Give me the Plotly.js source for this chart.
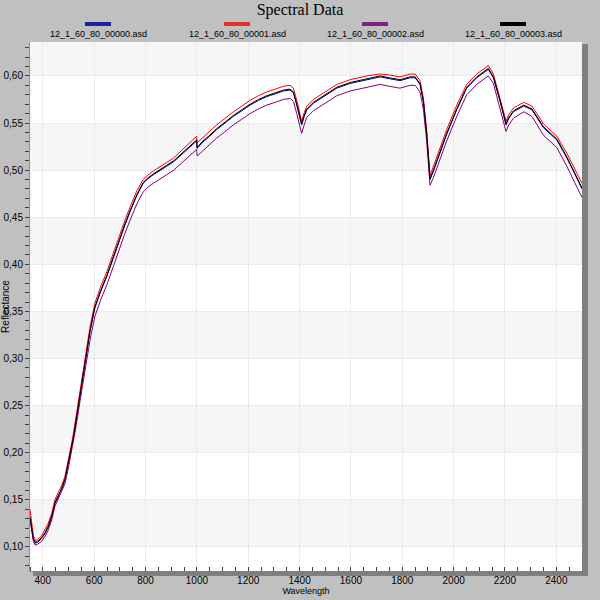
<!DOCTYPE html>
<html>
<head>
<meta charset="utf-8">
<script src="https://cdn.plot.ly/plotly-3.0.1.min.js"></script>
<style>html,body{margin:0;padding:0;background:#c0c0c0;}#chart{width:600px;height:600px;}</style>
</head>
<body>
<div id="chart"></div>
<script>
var seriesNames = ["12_1_60_80_00000.asd", "12_1_60_80_00001.asd", "12_1_60_80_00002.asd", "12_1_60_80_00003.asd"];
var xTickLabels = ["400","600","800","1000","1200","1400","1600","1800","2000","2200","2400"];

var wavelength = [350,357,363,370,380,395,408,421,435,447,460,473,486,499,510,520,530,545,560,584,603,625,649,675,700,720,740,766,791,810,830,855,882,910,934,960,980,999,1001,1020,1050,1077,1110,1142,1175,1207,1240,1272,1305,1337,1363,1376,1389,1400,1408,1418,1428,1454,1493,1545,1597,1662,1714,1750,1791,1830,1850,1869,1882,1895,1908,1920,1934,1973,2012,2051,2090,2116,2135,2155,2181,2204,2215,2233,2273,2305,2350,2402,2441,2470,2500];

var refl00000 = [0.131,0.118,0.108,0.104,0.105,0.109,0.114,0.121,0.132,0.146,0.154,0.161,0.171,0.187,0.203,0.217,0.235,0.262,0.289,0.329,0.354,0.371,0.387,0.408,0.428,0.442,0.456,0.473,0.486,0.491,0.495,0.499,0.504,0.509,0.515,0.521,0.526,0.531,0.523,0.529,0.536,0.543,0.550,0.557,0.563,0.569,0.574,0.578,0.581,0.584,0.585,0.582,0.569,0.555,0.548,0.557,0.564,0.571,0.578,0.587,0.592,0.596,0.599,0.597,0.595,0.598,0.598,0.591,0.573,0.538,0.490,0.498,0.509,0.538,0.564,0.587,0.598,0.603,0.607,0.598,0.573,0.548,0.555,0.562,0.568,0.564,0.545,0.532,0.513,0.497,0.480];

var refl00001 = [0.140,0.124,0.112,0.107,0.108,0.112,0.118,0.125,0.136,0.150,0.158,0.165,0.175,0.191,0.207,0.222,0.240,0.267,0.294,0.334,0.359,0.376,0.392,0.413,0.433,0.447,0.461,0.478,0.490,0.495,0.499,0.503,0.508,0.513,0.519,0.526,0.531,0.536,0.529,0.534,0.541,0.548,0.555,0.562,0.568,0.574,0.579,0.583,0.586,0.589,0.590,0.587,0.574,0.560,0.552,0.561,0.568,0.575,0.582,0.591,0.596,0.600,0.602,0.601,0.599,0.602,0.602,0.595,0.577,0.542,0.494,0.503,0.514,0.543,0.569,0.591,0.602,0.607,0.611,0.602,0.577,0.552,0.559,0.566,0.572,0.568,0.549,0.536,0.518,0.502,0.486];

var refl00002 = [0.130,0.116,0.106,0.102,0.103,0.106,0.111,0.118,0.129,0.143,0.151,0.158,0.167,0.183,0.198,0.212,0.229,0.255,0.281,0.320,0.345,0.362,0.378,0.399,0.419,0.433,0.447,0.464,0.477,0.482,0.486,0.490,0.495,0.500,0.506,0.512,0.517,0.522,0.515,0.520,0.527,0.534,0.541,0.548,0.554,0.560,0.565,0.569,0.572,0.575,0.576,0.573,0.560,0.546,0.539,0.548,0.556,0.563,0.570,0.579,0.584,0.588,0.591,0.589,0.587,0.590,0.590,0.583,0.565,0.531,0.484,0.491,0.502,0.531,0.557,0.580,0.591,0.596,0.600,0.592,0.566,0.541,0.548,0.555,0.562,0.557,0.537,0.524,0.504,0.488,0.471];

var refl00003 = [0.132,0.119,0.109,0.105,0.106,0.110,0.115,0.122,0.133,0.147,0.155,0.162,0.172,0.188,0.204,0.218,0.236,0.263,0.290,0.330,0.355,0.372,0.388,0.409,0.429,0.443,0.457,0.474,0.487,0.492,0.496,0.500,0.505,0.510,0.516,0.522,0.527,0.532,0.524,0.530,0.537,0.544,0.551,0.558,0.564,0.570,0.575,0.579,0.582,0.585,0.586,0.583,0.570,0.556,0.549,0.558,0.565,0.572,0.579,0.588,0.593,0.597,0.600,0.598,0.596,0.599,0.599,0.592,0.574,0.539,0.491,0.499,0.510,0.539,0.565,0.588,0.599,0.604,0.608,0.599,0.574,0.549,0.556,0.563,0.569,0.565,0.546,0.533,0.514,0.498,0.481];

var seriesValues = [refl00000, refl00001, refl00002, refl00003];
var lineColors = ["#000080", "#ff0000", "#800080", "#000000"];
var legendColors = ["#2020a0", "#e03030", "#802080", "#000000"];

var traces = seriesValues.map(function (vals, i) {
  return {
    x: wavelength, y: vals, type: "scatter", mode: "lines", name: seriesNames[i],
    line: {color: lineColors[i], width: 1}, showlegend: false, hoverinfo: "skip"
  };
});

var yRange = [0.0745, 0.636];
var shapes = [];
for (var b = 0.10; b < 0.64; b += 0.10) {
  shapes.push({type: "rect", xref: "paper", yref: "y", x0: 0, x1: 1, y0: b, y1: Math.min(b + 0.05, yRange[1]),
    fillcolor: "#f6f6f6", line: {width: 0}, layer: "below"});
}
// plot-area shadow (right and bottom)
var L = 30, R = 582, T = 42, B = 571, W = R - L, H = B - T;
function px(v) { return (v - L) / W; }
function py(v) { return (B - v) / H; }
shapes.push({type: "rect", xref: "paper", yref: "paper", x0: px(582), x1: px(588), y0: py(44), y1: py(576), fillcolor: "#808080", line: {width: 0}});
shapes.push({type: "rect", xref: "paper", yref: "paper", x0: px(33), x1: px(588), y0: py(571), y1: py(576), fillcolor: "#808080", line: {width: 0}});

// legend: line symbol above centred text
var legendCenters = [98, 237, 375, 513];
var annotations = [];
seriesNames.forEach(function (nm, i) {
  shapes.push({type: "line", xref: "paper", yref: "paper", x0: px(legendCenters[i] - 13), x1: px(legendCenters[i] + 13),
    y0: py(24), y1: py(24), line: {color: legendColors[i], width: 4}});
  annotations.push({text: nm, xref: "paper", yref: "paper", x: px(legendCenters[i]), y: py(34), xanchor: "center", yanchor: "middle",
    showarrow: false, font: {family: "Liberation Sans, Arial, sans-serif", size: 9, color: "#000"}});
});

var layout = {
  width: 600, height: 600,
  margin: {l: L, r: 600 - R, t: T, b: 600 - B, pad: 0},
  paper_bgcolor: "#c0c0c0", plot_bgcolor: "#ffffff",
  separators: ",.",
  font: {family: "Liberation Sans, Arial, sans-serif", size: 10, color: "#000"},
  title: {text: "Spectral Data", x: 0.5, xanchor: "center", xref: "container", y: (600 - 9) / 600, yref: "container", yanchor: "middle",
    font: {family: "Liberation Serif, Times New Roman, serif", size: 16, color: "#000"}},
  xaxis: {
    range: [350, 2500], tickmode: "array", tickvals: xTickLabels.map(Number), ticktext: xTickLabels,
    ticks: "", showgrid: true, gridcolor: "#ebebeb", gridwidth: 1, zeroline: false,
    showline: true, linecolor: "#909090", linewidth: 1,
    tickfont: {size: 10},
    minor: {tickmode: "linear", tick0: 0, dtick: 50, ticks: "inside", ticklen: 4, tickcolor: "#404040", showgrid: false},
    title: {text: "Wavelength", font: {size: 9}, standoff: 2}, automargin: false
  },
  yaxis: {
    range: yRange, tickmode: "linear", tick0: 0, dtick: 0.05, tickformat: ".2f",
    ticks: "outside", ticklen: 4, tickcolor: "#404040",
    showgrid: true, gridcolor: "#ebebeb", zeroline: false,
    showline: true, linecolor: "#909090", linewidth: 1,
    tickfont: {size: 10},
    minor: {tickmode: "linear", tick0: 0, dtick: 0.01, ticks: "outside", ticklen: 4, tickcolor: "#404040", showgrid: false},
    title: {text: "Reflectance", font: {size: 10}, standoff: 2}, automargin: false
  },
  shapes: shapes,
  annotations: annotations,
  showlegend: false
};

Plotly.newPlot("chart", traces, layout, {staticPlot: true, displayModeBar: false});
</script>
</body>
</html>
